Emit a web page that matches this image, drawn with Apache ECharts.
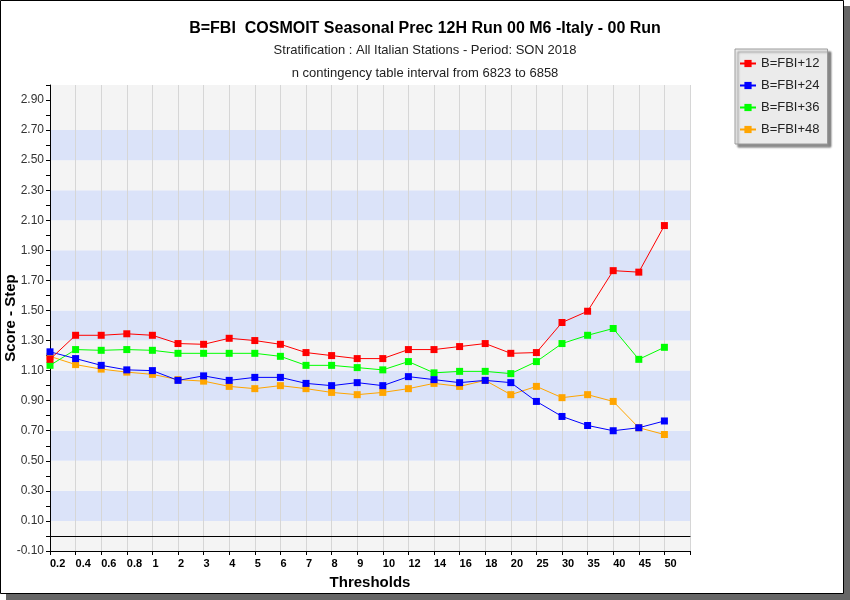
<!DOCTYPE html>
<html>
<head>
<meta charset="utf-8">
<script src="https://cdn.jsdelivr.net/npm/echarts@6/dist/echarts.min.js"></script>
<style>
html,body{margin:0;padding:0;background:#ffffff;}
#main{width:850px;height:600px;}
</style>
</head>
<body>
<div id="main"></div>
<script>
var categories = ['0.2','0.4','0.6','0.8','1','2','3','4','5','6','7','8','9','10','12','14','16','18','20','25','30','35','40','45','50'];
var seriesNames = ['B=FBI+12','B=FBI+24','B=FBI+36','B=FBI+48'];
var fbi12 = [1.175,1.335,1.335,1.345,1.335,1.28,1.275,1.315,1.30,1.275,1.22,1.20,1.18,1.18,1.24,1.24,1.26,1.28,1.215,1.22,1.42,1.495,1.765,1.755,2.065];
var fbi24 = [1.225,1.18,1.135,1.105,1.10,1.035,1.065,1.035,1.055,1.055,1.015,1.00,1.02,1.00,1.06,1.04,1.02,1.035,1.02,0.895,0.795,0.735,0.70,0.72,0.765];
var fbi36 = [1.135,1.24,1.235,1.24,1.235,1.215,1.215,1.215,1.215,1.195,1.135,1.135,1.12,1.105,1.16,1.085,1.095,1.095,1.08,1.16,1.28,1.335,1.38,1.175,1.255];
var fbi48 = [1.195,1.14,1.11,1.09,1.075,1.04,1.03,0.995,0.98,1.00,0.98,0.955,0.94,0.955,0.98,1.015,0.995,1.035,0.94,0.995,0.92,0.94,0.895,0.72,0.675];
var yMin = -0.1, yMax = 3.0, yStep = 0.1;
var bandRanges = [[0.1,0.3],[0.5,0.7],[0.9,1.1],[1.3,1.5],[1.7,1.9],[2.1,2.3],[2.5,2.7]];

var colors = ['#ff0000','#0000ff','#00ff00','#ffa500'];
var values = [fbi12, fbi24, fbi36, fbi48];

var areaColors = [];
var nAreas = Math.round((yMax - yMin) / yStep);
for (var k = 0; k < nAreas; k++) {
  var lo = yMin + k * yStep + 0.05;
  var inBand = bandRanges.some(function (b) { return lo > b[0] && lo < b[1]; });
  areaColors.push(inBand ? '#dbe3f9' : '#f4f4f4');
}

var series = values.map(function (v, i) {
  return {
    name: seriesNames[i],
    type: 'line',
    data: v,
    symbol: 'rect',
    symbolSize: 7,
    z: 10 - i,
    lineStyle: { width: 1, color: colors[i] },
    itemStyle: { color: colors[i] },
    animation: false
  };
});

var xLabels = categories.concat(['']);

var chart = echarts.init(document.getElementById('main'), null, { renderer: 'canvas' });
chart.setOption({
  animation: false,
  backgroundColor: 'transparent',
  graphic: [
    { type: 'rect', shape: { x: 6, y: 6, width: 844, height: 594 }, style: { fill: '#666666' }, z: -10, silent: true },
    { type: 'rect', shape: { x: 0.5, y: 0.5, width: 843, height: 593 }, style: { fill: '#ffffff', stroke: '#000', lineWidth: 1 }, z: -9, silent: true }
  ],
  title: [
    { text: 'B=FBI  COSMOIT Seasonal Prec 12H Run 00 M6 -Italy - 00 Run', left: 'center', top: 16,
      textStyle: { fontFamily: 'Liberation Sans', fontSize: 16, fontWeight: 'bold', color: '#000' } },
    { text: 'Stratification : All Italian Stations - Period: SON 2018', left: 'center', top: 39,
      textStyle: { fontFamily: 'Liberation Sans', fontSize: 13, fontWeight: 'normal', color: '#222' } },
    { text: 'n contingency table interval from 6823 to 6858', left: 'center', top: 62,
      textStyle: { fontFamily: 'Liberation Sans', fontSize: 13, fontWeight: 'normal', color: '#222' } }
  ],
  legend: {
    orient: 'vertical',
    left: 735, top: 49,
    width: 95,
    padding: [8, 8, 8, 4],
    itemGap: 9,
    itemWidth: 16, itemHeight: 9,
    backgroundColor: '#ebebeb',
    borderColor: '#9a9a9a', borderWidth: 1,
    shadowColor: 'rgba(0,0,0,0.45)', shadowOffsetX: 3, shadowOffsetY: 3, shadowBlur: 2,
    textStyle: { fontFamily: 'Liberation Sans', fontSize: 13, color: '#222' },
    data: seriesNames
  },
  grid: { left: 50, right: 160, top: 85, bottom: 49, containLabel: false, outerBoundsMode: 'none' },
  xAxis: [{
    type: 'category',
    data: xLabels,
    boundaryGap: false,
    position: 'bottom',
    name: 'Thresholds',
    nameLocation: 'middle',
    nameGap: 24,
    nameTextStyle: { fontFamily: 'Liberation Sans', fontSize: 15, fontWeight: 'bold', color: '#000' },
    axisLine: { onZero: false, lineStyle: { color: '#000', width: 1 } },
    axisTick: { show: true, length: 4, interval: 0, lineStyle: { color: '#000' } },
    axisLabel: { interval: 0, align: 'left', margin: 7,
      fontFamily: 'Liberation Sans Narrow, Liberation Sans', fontSize: 11, fontWeight: 'bold', color: '#000' },
    splitLine: { show: true, interval: 0, lineStyle: { color: '#d6d6d6', width: 1 } }
  }, {
    type: 'category',
    data: xLabels,
    boundaryGap: false,
    position: 'bottom',
    axisLine: { show: true, onZero: true, onZeroAxisIndex: 0, lineStyle: { color: '#000', width: 1 } },
    axisTick: { show: false },
    axisLabel: { show: false },
    splitLine: { show: false }
  }],
  yAxis: {
    type: 'value',
    min: yMin, max: yMax, interval: yStep,
    name: 'Score - Step',
    nameLocation: 'middle',
    nameGap: 32,
    nameMoveOverlap: false,
    nameRotate: 90,
    nameTextStyle: { fontFamily: 'Liberation Sans', fontSize: 15, fontWeight: 'bold', color: '#000' },
    axisLine: { show: true, onZero: false, lineStyle: { color: '#000', width: 1 } },
    axisTick: { show: true, length: 4, lineStyle: { color: '#000' } },
    axisLabel: {
      margin: 6,
      fontFamily: 'Liberation Sans', fontSize: 12, color: '#333',
      formatter: function (v) {
        var t = Math.round(v * 10);
        return (Math.abs(t) % 2 === 1) ? (t / 10).toFixed(2) : '';
      }
    },
    splitLine: { show: false },
    splitArea: { show: true, areaStyle: { color: areaColors } }
  },
  series: series
});
</script>
</body>
</html>
